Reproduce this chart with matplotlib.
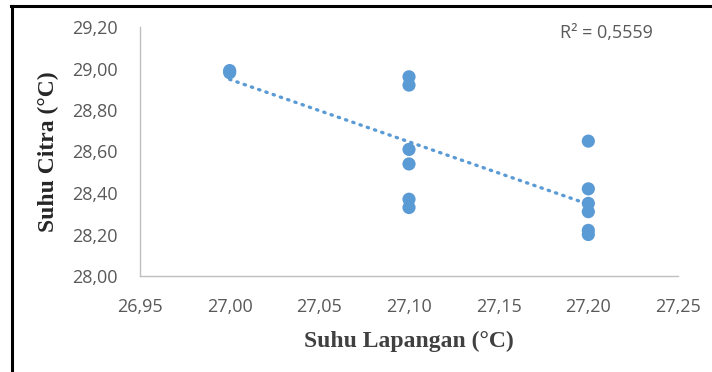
import numpy as np
import matplotlib
matplotlib.use("Agg")
import matplotlib.pyplot as plt
from matplotlib.lines import Line2D

# field temperature (x) vs image temperature (y)
suhu_lapangan = [27.00, 27.00,
                 27.10, 27.10, 27.10, 27.10, 27.10, 27.10,
                 27.20, 27.20, 27.20, 27.20, 27.20, 27.20]
suhu_citra = [28.99, 28.98,
              28.96, 28.92, 28.61, 28.54, 28.37, 28.33,
              28.65, 28.42, 28.35, 28.31, 28.22, 28.20]
x_ticks = [26.95, 27.00, 27.05, 27.10, 27.15, 27.20, 27.25]
y_ticks = [28.00, 28.20, 28.40, 28.60, 28.80, 29.00, 29.20]
r2_text = "R² = 0,5559"

blue = "#5B9BD5"
grey = "#595959"

fig = plt.figure(figsize=(7.12, 3.72), dpi=100)
ax = fig.add_axes([140 / 712, 1 - 276 / 372, 538 / 712, 249 / 372])

ax.scatter(suhu_lapangan, suhu_citra, s=90, color=blue, edgecolors="none", zorder=2)

# linear trendline over the data range
coef = np.polyfit(suhu_lapangan, suhu_citra, 1)
xt = np.array([min(suhu_lapangan), max(suhu_lapangan)])
ax.plot(xt, np.polyval(coef, xt), color=blue, lw=2.4, linestyle=(0, (0.4, 1.9)),
        dash_capstyle="round", zorder=3)

ax.set_xlim(x_ticks[0], x_ticks[-1])
ax.set_ylim(y_ticks[0], y_ticks[-1])
ax.set_xticks(x_ticks)
ax.set_yticks(y_ticks)
ax.set_xticklabels([f"{v:.2f}".replace(".", ",") for v in x_ticks])
ax.set_yticklabels([f"{v:.2f}".replace(".", ",") for v in y_ticks])
for lab in ax.get_xticklabels() + ax.get_yticklabels():
    lab.set_family("Open Sans")
    lab.set_fontsize(13)
    lab.set_color(grey)
ax.tick_params(axis="x", length=0, pad=16)
ax.tick_params(axis="y", length=0, pad=16)

for side in ["top", "right"]:
    ax.spines[side].set_visible(False)
for side in ["left", "bottom"]:
    ax.spines[side].set_color("#bfbfbf")
    ax.spines[side].set_linewidth(1.0)

fig.text(409 / 712, 1 - 341 / 372, "Suhu Lapangan (°C)", ha="center", va="center",
         family="Liberation Serif", fontweight="bold", fontsize=17, color="#404040")
fig.text(48 / 712, 1 - 152 / 372, "Suhu Citra (°C)", ha="center", va="center",
         rotation=90, family="Liberation Serif", fontweight="bold", fontsize=17,
         color="#262626")
fig.text(560 / 712, 1 - 33 / 372, r2_text, ha="left", va="center",
         family="Open Sans", fontsize=13, color=grey)

# black frame on top and left
fig.add_artist(Line2D([11.5 / 712, 11.5 / 712], [0, 1 - 5.5 / 372], color="black",
                      lw=2.2, transform=fig.transFigure))
fig.add_artist(Line2D([10.5 / 712, 1], [1 - 5.5 / 372, 1 - 5.5 / 372], color="black",
                      lw=2.2, transform=fig.transFigure))

fig.savefig("out.png", dpi=100)
